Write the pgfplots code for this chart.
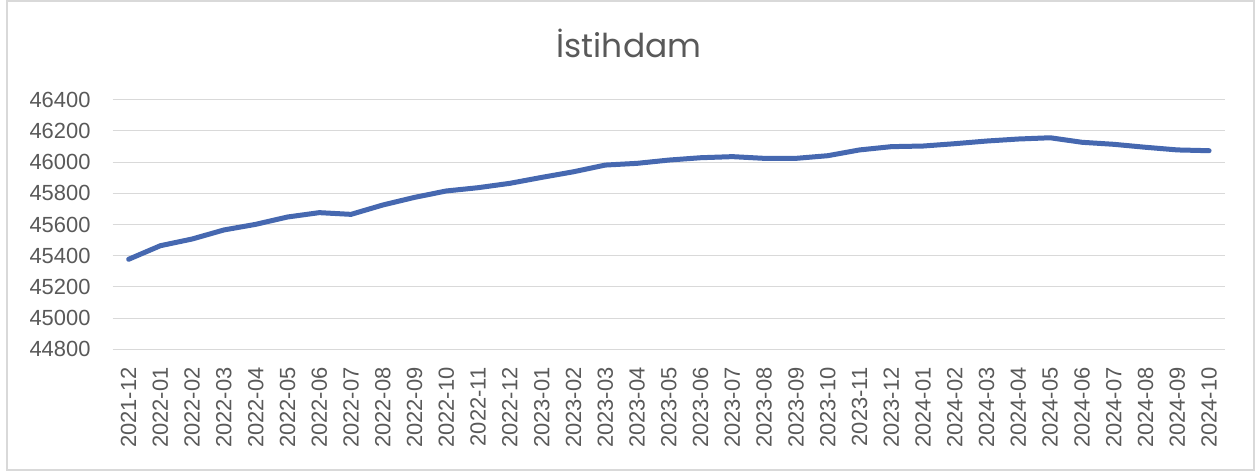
\documentclass[border=0pt]{standalone}
\usepackage{pgfplots}
\pgfplotsset{compat=1.18}
\usepackage{fontspec}
\setmainfont{Liberation Sans}
\newfontfamily\titlefont{Poppins}
\definecolor{lineblue}{RGB}{70,104,176}
\definecolor{gridgray}{RGB}{217,217,217}
\definecolor{textgray}{RGB}{89,89,89}
\begin{document}
\begin{tikzpicture}
\useasboundingbox (0bp,0bp) rectangle (1257bp,472bp);
\fill[white] (0bp,0bp) rectangle (1257bp,472bp);
\draw[gridgray, line width=1.3bp] (7bp,2bp) rectangle (1254bp,471bp);
\node[anchor=base, text=textgray, font=\titlefont\fontsize{33}{39}\selectfont, inner sep=0pt] at (629bp,414bp) {İstihdam};
\begin{axis}[
  at={(112.7bp,122.7bp)}, anchor=south west,
  scale only axis, width=1112.3bp, height=249.6bp,
  xmin=-0.5, xmax=34.5, ymin=44800, ymax=46400,
  xtick={0,...,34},
  xticklabels={2021-12,2022-01,2022-02,2022-03,2022-04,2022-05,2022-06,2022-07,2022-08,2022-09,2022-10,2022-11,2022-12,2023-01,2023-02,2023-03,2023-04,2023-05,2023-06,2023-07,2023-08,2023-09,2023-10,2023-11,2023-12,2024-01,2024-02,2024-03,2024-04,2024-05,2024-06,2024-07,2024-08,2024-09,2024-10},
  ytick={44800,45000,...,46400},
  scaled y ticks=false,
  ymajorgrids, grid style={gridgray, line width=1bp},
  axis line style={draw=none},
  major tick length=0pt,
  /pgf/number format/assume math mode=true,
  /pgf/number format/set thousands separator={},
  tick label style={text=textgray, font=\fontsize{22}{26}\selectfont, inner sep=0pt},
  xticklabel style={rotate=90, anchor=east},
  xticklabel shift=18bp,
  yticklabel style={anchor=east},
  yticklabel shift=22bp,
  clip=false,
]
\addplot[lineblue, line width=5bp, line join=round, line cap=round] coordinates {
(0,45377) (1,45464) (2,45507) (3,45565) (4,45601) (5,45648) (6,45676) (7,45665)
(8,45725) (9,45774) (10,45815) (11,45836) (12,45864) (13,45902) (14,45938) (15,45981)
(16,45992) (17,46013) (18,46028) (19,46035) (20,46024) (21,46024) (22,46041) (23,46078)
(24,46099) (25,46103) (26,46118) (27,46135) (28,46148) (29,46156) (30,46127) (31,46114)
(32,46095) (33,46078) (34,46073)
};
\end{axis}
\end{tikzpicture}
\end{document}
